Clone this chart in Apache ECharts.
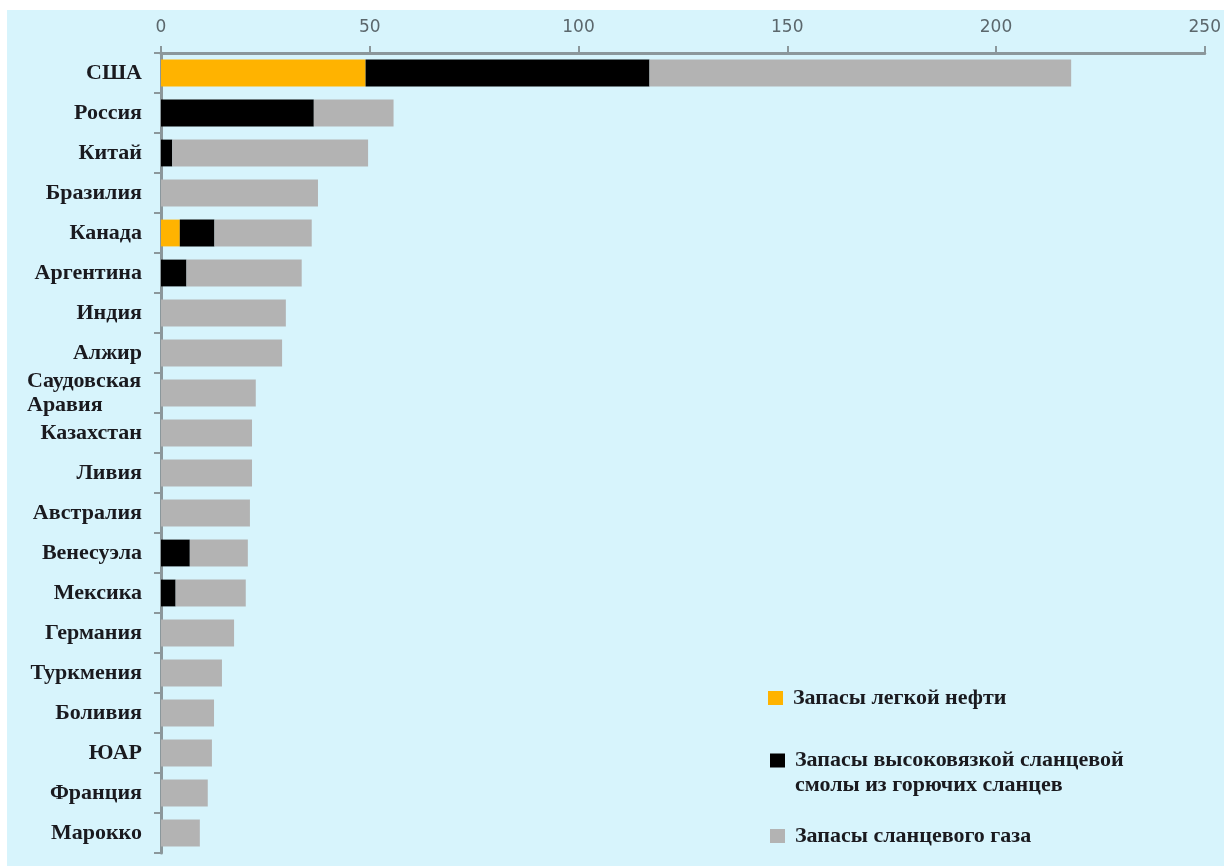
<!DOCTYPE html>
<html>
<head>
<meta charset="utf-8">
<script src="https://cdn.jsdelivr.net/npm/echarts@6/dist/echarts.min.js"></script>
<style>
  html, body { margin: 0; padding: 0; background: #ffffff; }
  #chart { width: 1224px; height: 866px; }
</style>
</head>
<body>
<div id="chart"></div>
<script>
const countries = ['США', 'Россия', 'Китай', 'Бразилия', 'Канада', 'Аргентина', 'Индия', 'Алжир',
  'Саудовская Аравия', 'Казахстан', 'Ливия', 'Австралия', 'Венесуэла', 'Мексика', 'Германия',
  'Туркмения', 'Боливия', 'ЮАР', 'Франция', 'Марокко']
const lightOil = [49, 0, 0, 0, 4.5, 0, 0, 0, 0, 0, 0, 0, 0, 0, 0, 0, 0, 0, 0, 0]
const shaleTar = [68, 36.6, 2.7, 0, 8.3, 6.1, 0, 0, 0, 0, 0, 0, 6.9, 3.5, 0, 0, 0, 0, 0, 0]
const shaleGas = [101, 19.1, 46.9, 37.6, 23.3, 27.6, 29.9, 29.0, 22.7, 21.8, 21.8, 21.3, 13.9, 16.8,
  17.5, 14.6, 12.7, 12.2, 11.2, 9.3]
const seriesNames = ['Запасы легкой нефти',
  'Запасы высоковязкой сланцевой смолы из горючих сланцев',
  'Запасы сланцевого газа']
const xTicks = [0, 250, 50]  // min, max, interval

const serif = '"Liberation Serif", "Times New Roman", serif'
const labelSize = 22
const labelFont = 'bold ' + labelSize + 'px "Liberation Serif"'

// width of the first line of the two-line label, so the second line can sit left under it
const measure = (txt) => {
  const ctx = document.createElement('canvas').getContext('2d')
  ctx.font = labelFont
  return Math.ceil(ctx.measureText(txt).width)
}
const saudiW = measure('Саудовская')

const chart = echarts.init(document.getElementById('chart'))

const legendText = { color: '#1a1a1f', fontFamily: serif, fontWeight: 'bold', fontSize: 22, padding: [0, 0, 0, 5] }

const option = {
  animation: false,
  backgroundColor: '#ffffff',
  graphic: [
    { type: 'rect', silent: true, z: -10, shape: { x: 7, y: 10, width: 1217, height: 856 }, style: { fill: '#d7f4fc' } }
  ],
  grid: { left: 161, right: 18, top: 53, bottom: 13 },
  legend: [
    {
      data: [seriesNames[0]], left: 768, top: 687, padding: 0, icon: 'rect', itemWidth: 15, itemHeight: 14,
      textStyle: legendText, selectedMode: false
    },
    {
      // blank first line keeps the icon level with the first line of text
      data: [seriesNames[1]], left: 770, top: 723, padding: 0, icon: 'rect', itemWidth: 15, itemHeight: 14,
      formatter: (n) => ' \n' + n.replace(' смолы', '\nсмолы'),
      textStyle: Object.assign({}, legendText, { lineHeight: 25 }), selectedMode: false
    },
    {
      data: [seriesNames[2]], left: 770, top: 825, padding: 0, icon: 'rect', itemWidth: 15, itemHeight: 14,
      textStyle: legendText, selectedMode: false
    }
  ],
  xAxis: {
    type: 'value',
    position: 'top',
    min: xTicks[0],
    max: xTicks[1],
    interval: xTicks[2],
    axisLine: { show: true, lineStyle: { color: '#8b979b', width: 3 } },
    axisTick: { show: true, length: 7, lineStyle: { color: '#8b979b', width: 2 } },
    axisLabel: { color: '#5b676c', fontFamily: '"DejaVu Sans", Verdana, sans-serif', fontSize: 17, margin: 17 },
    splitLine: { show: false }
  },
  yAxis: {
    type: 'category',
    inverse: true,
    data: countries,
    axisLine: { show: true, lineStyle: { color: '#8b979b', width: 3 } },
    axisTick: { show: true, length: 7, lineStyle: { color: '#8b979b', width: 2 } },
    axisLabel: {
      color: '#1a1a1f',
      fontFamily: serif,
      fontWeight: 'bold',
      fontSize: labelSize,
      margin: 19,
      formatter: (v) => v === 'Саудовская Аравия' ? '{w|Саудовская}\n{w|Аравия}' : v,
      rich: {
        w: { width: saudiW, align: 'left', fontFamily: serif, fontWeight: 'bold', fontSize: labelSize, color: '#1a1a1f', lineHeight: 24 }
      }
    }
  },
  series: [
    { name: seriesNames[0], type: 'bar', stack: 'total', barCategoryGap: '33%', itemStyle: { color: '#ffb300' }, data: lightOil },
    { name: seriesNames[1], type: 'bar', stack: 'total', itemStyle: { color: '#000000' }, data: shaleTar },
    { name: seriesNames[2], type: 'bar', stack: 'total', itemStyle: { color: '#b3b3b3' }, data: shaleGas }
  ]
}

chart.setOption(option)
</script>
</body>
</html>
